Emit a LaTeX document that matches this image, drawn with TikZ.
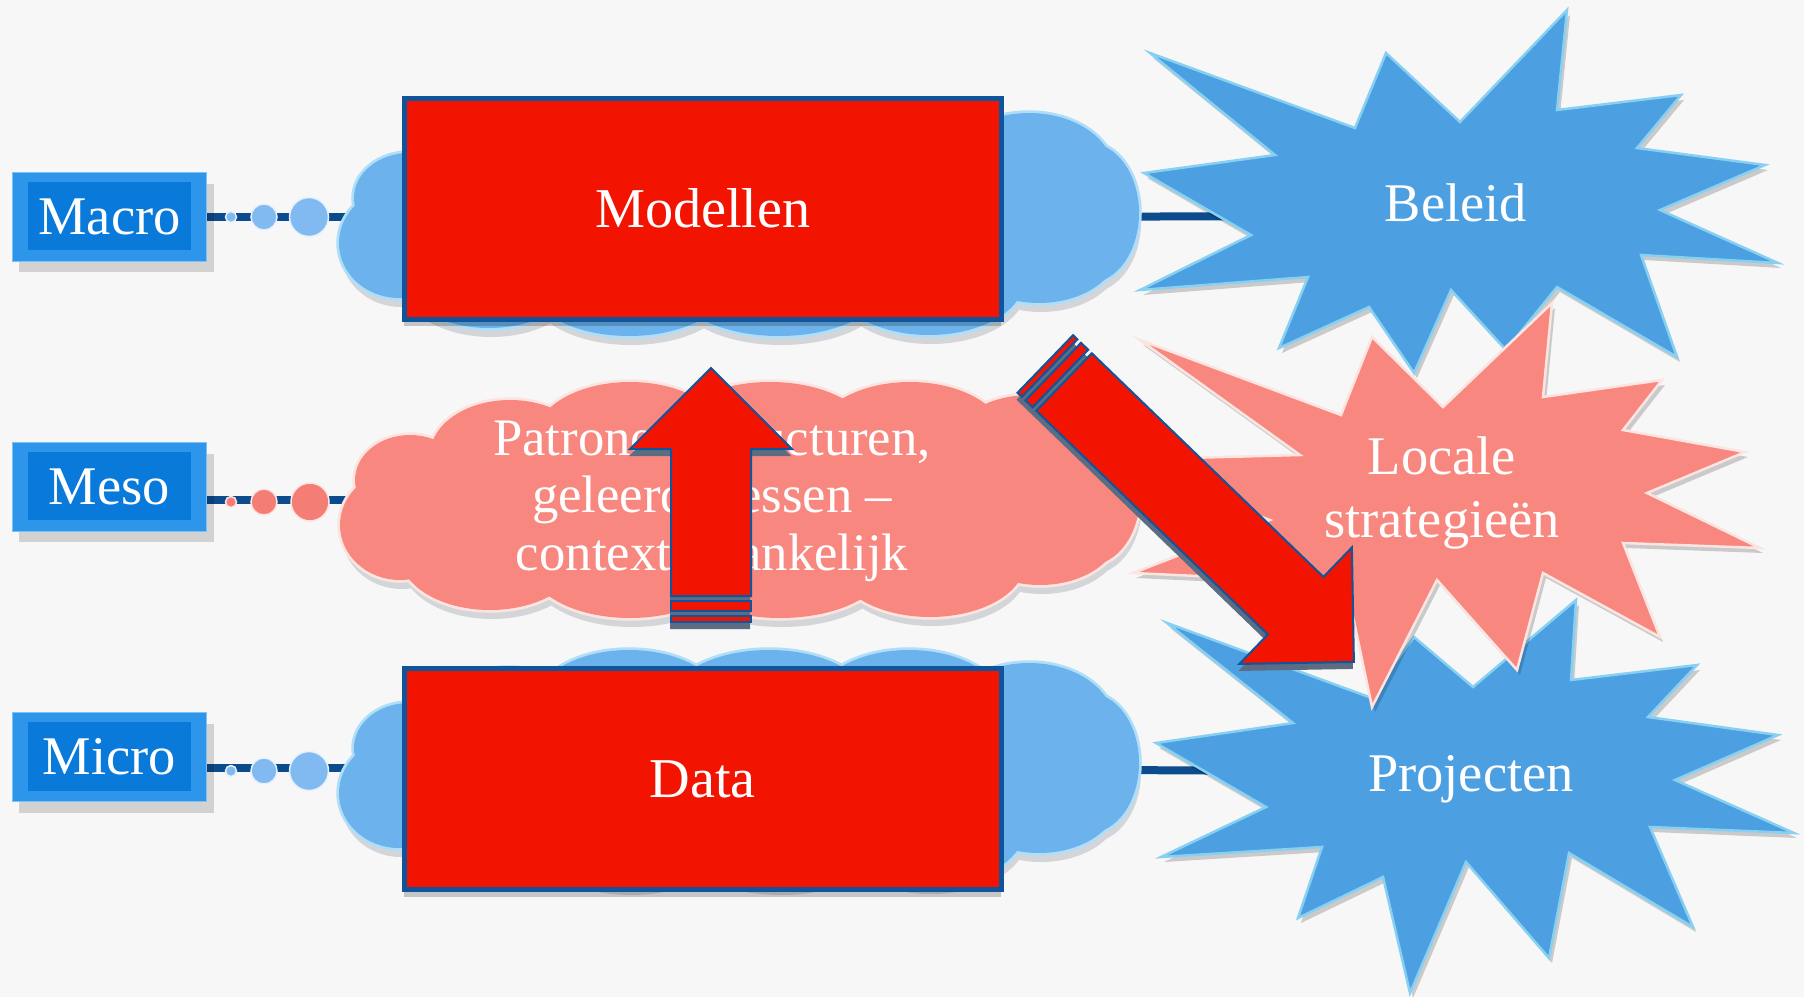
\documentclass[tikz,border=0pt]{standalone}
\usepackage{fontspec}
\setmainfont{Liberation Serif}
\usetikzlibrary{shadows,calc}
\definecolor{bgc}{RGB}{247,247,247}
\definecolor{lineblue}{RGB}{12,75,140}
\definecolor{boxred}{RGB}{242,20,0}
\definecolor{rededge}{RGB}{16,85,155}
\definecolor{cloudblue}{RGB}{108,178,236}
\definecolor{cloudedge}{RGB}{175,222,248}
\definecolor{cloudshadow}{RGB}{212,213,216}
\definecolor{starblue}{RGB}{76,160,226}
\definecolor{staredge}{RGB}{135,208,242}
\definecolor{pinkc}{RGB}{248,136,127}
\definecolor{pinkedge}{RGB}{252,228,225}
\definecolor{lvlblue}{RGB}{45,150,235}
\definecolor{lvlface}{RGB}{10,122,218}
\definecolor{dotblue}{RGB}{128,186,240}
\definecolor{dotpink}{RGB}{244,126,118}
\definecolor{arrshadow}{RGB}{92,108,130}
\pgfdeclarelayer{bgl}
\pgfdeclarelayer{lines}
\pgfsetlayers{bgl,lines,main}
\def\cloudlist{-340/25/60/55, -330/-20/55/45, -230/-45/80/55, -110/-62/95/56, 30/-65/100/53, 170/-62/95/56, 290/-45/85/60, 350/-5/50/70, -250/55/90/55, -110/65/100/53, 40/66/105/52, 190/62/95/55, 300/30/80/55, 0/0/320/85}
\newcommand\drawcloud[3]{%
  \begin{scope}[shift={#1}]
    \foreach \cx/\cy/\rx/\ry in \cloudlist {\fill[cloudshadow] (\cx+2,\cy+9) ellipse [x radius=\rx, y radius=\ry];}
    \foreach \cx/\cy/\rx/\ry in \cloudlist {\draw[#3, line width=0.11cm] (\cx,\cy) ellipse [x radius=\rx, y radius=\ry];}
    \foreach \cx/\cy/\rx/\ry in \cloudlist {\fill[#2] (\cx,\cy) ellipse [x radius=\rx, y radius=\ry];}
  \end{scope}}
\begin{document}
\begin{tikzpicture}[x=0.02cm,y=-0.02cm,
  lvl/.style={draw=lvlblue!60!white, line width=0.02cm, fill=lvlblue,
    minimum width=3.9cm, minimum height=1.78cm, inner sep=0pt, text=white,
    font=\fontsize{31}{36}\selectfont,
    drop shadow={shadow xshift=0.14cm, shadow yshift=-0.22cm, opacity=0.15, fill=black},
    path picture={\fill[lvlface] ($(path picture bounding box.north west)+(0.32cm,-0.18cm)$) rectangle ($(path picture bounding box.south east)+(-0.32cm,0.22cm)$);}},
  redbox/.style={draw=rededge, line width=0.1cm, fill=boxred,
    minimum width=11.95cm, minimum height=4.43cm, inner sep=0pt, text=white,
    font=\fontsize{32}{38}\selectfont,
    drop shadow={shadow xshift=0cm, shadow yshift=-0.14cm, opacity=0.2, fill=black}},
  starb/.style={fill=starblue, draw=staredge, line width=0.05cm, line join=miter,
    drop shadow={shadow xshift=0.06cm, shadow yshift=-0.1cm, opacity=0.18, fill=black}},
  starp/.style={starb, fill=pinkc, draw=pinkedge},
  conn/.style={draw=lineblue, line width=0.16cm},
  dotb/.style={circle, fill=dotblue, draw=white!80!dotblue, line width=0.03cm, inner sep=0pt},
  dotp/.style={dotb, fill=dotpink, draw=white!80!dotpink},
  arrbody/.style={fill=boxred, draw=rededge, line width=0.04cm, line join=miter},
  arrsh/.style={fill=arrshadow},
  lbl/.style={text=white, align=center, font=\fontsize{31}{36}\selectfont}
]
\begin{pgfonlayer}{bgl}
\fill[bgc] (0,0) rectangle (1804,997);
\end{pgfonlayer}
\useasboundingbox (0,0) rectangle (1804,997);

% level boxes
\node[lvl] (macro) at (109.5,217) {Macro};
\node[lvl] (meso)  at (109.5,487) {Meso};
\node[lvl] (micro) at (109.5,757) {Micro};

% dots
\node[dotb, minimum size=0.22cm] (ma1) at (231,217) {};
\node[dotb, minimum size=0.52cm] (ma2) at (264,217) {};
\node[dotb, minimum size=0.78cm] (ma3) at (309,217) {};
\node[dotp, minimum size=0.22cm] (me1) at (231,502) {};
\node[dotp, minimum size=0.52cm] (me2) at (264,502) {};
\node[dotp, minimum size=0.76cm] (me3) at (310,502) {};
\node[dotb, minimum size=0.22cm] (mi1) at (231,771) {};
\node[dotb, minimum size=0.52cm] (mi2) at (264,771) {};
\node[dotb, minimum size=0.78cm] (mi3) at (309,771) {};

% clouds
\coordinate (cloudM) at (739,218);
\coordinate (cloudP) at (740,500);
\coordinate (cloudD) at (739,768);
\drawcloud{(cloudM)}{cloudblue}{cloudedge}
\drawcloud{(cloudP)}{pinkc}{pinkedge}
\drawcloud{(cloudD)}{cloudblue}{cloudedge}

% red boxes
\node[redbox] (modellen) at (702.75,208.75) {Modellen};
\node[redbox] (data) at (702.75,779) {Data};

% connector ends inside the stars
\coordinate (beleidIn) at (1300,216);
\coordinate (projIn) at (1300,771);

% stars
\draw[starb] (1150,53) -- (1355,128) -- (1386,53) -- (1460,122) -- (1567,10) -- (1557,110) -- (1681,95) -- (1637,148) -- (1765,165) -- (1660,210) -- (1778,263) -- (1641,255) -- (1677,357) -- (1557,287) -- (1506,350) -- (1451,290) -- (1414,373) -- (1369,307) -- (1279,348) -- (1308,277) -- (1140,290) -- (1251,235) -- (1144,173) -- (1275,155) -- cycle;
\draw[starb] (1167,623) -- (1369,697) -- (1414,637) -- (1473,687) -- (1576,600) -- (1571,680) -- (1697,665) -- (1648,717) -- (1778,735) -- (1675,780) -- (1794,833) -- (1650,827) -- (1693,927) -- (1569,853) -- (1549,958) -- (1466,862) -- (1410,993) -- (1383,877) -- (1298,918) -- (1322,847) -- (1161,857) -- (1266,807) -- (1156,743) -- (1293,723) -- cycle;
\draw[starp] (1140,340) -- (1341,415) -- (1372,337) -- (1443,407) -- (1552,303) -- (1543,397) -- (1662,380) -- (1623,430) -- (1745,452) -- (1647,493) -- (1760,548) -- (1623,543) -- (1660,637) -- (1543,573) -- (1517,670) -- (1437,580) -- (1372,707) -- (1346,583) -- (1133,573) -- (1270,520) -- (1110,460) -- (1300,455) -- cycle;

% labels
\node[lbl] (beleid) at (1456,203) {Beleid};
\node[lbl] (locale) at (1442,493) {Locale\\strategieën};
\node[lbl] (projecten) at (1471,779) {Projecten};
\node[lbl, font=\fontsize{30}{32.7}\selectfont] (patronen) at (712,501) {Patronen, structuren,\\geleerde lessen –\\contextafhankelijk};

% connectors
\begin{pgfonlayer}{lines}
\draw[conn] (macro.east) -- (macro.east -| cloudM);
\draw[conn] (cloudP -| meso.east) -- (cloudP);
\draw[conn] (cloudD -| micro.east) -- (cloudD);
\draw[conn] (cloudM) -- (beleidIn);
\draw[conn] (cloudD) -- (projIn);
\end{pgfonlayer}

% up arrow
\begin{scope}[shift={(-1,7)}]
\fill[arrsh] (671,622) -- (671,449) -- (630,449) -- (711,368) -- (792,449) -- (751,449) -- (751,622) -- cycle;
\end{scope}
\draw[arrbody] (671,596) -- (671,449) -- (630,449) -- (711,368) -- (792,449) -- (751,449) -- (751,596) -- cycle;
\draw[arrbody] (671,601) rectangle (751,611);
\draw[arrbody] (671,616) rectangle (751,622);

% diagonal arrow
\begin{scope}[shift={(1063,389)}, rotate=-44]
\fill[arrsh] (-26,-40) -- (322,-40) -- (322,-81) -- (403,0) -- (322,81) -- (322,40) -- (-26,40) -- cycle;
\end{scope}
\begin{scope}[shift={(1064,382)}, rotate=-44]
\draw[arrbody] (0,-40) -- (322,-40) -- (322,-81) -- (403,0) -- (322,81) -- (322,40) -- (0,40) -- cycle;
\draw[arrbody] (-15,-40) rectangle (-5,40);
\draw[arrbody] (-26,-40) rectangle (-20,40);
\end{scope}
\end{tikzpicture}
\end{document}
